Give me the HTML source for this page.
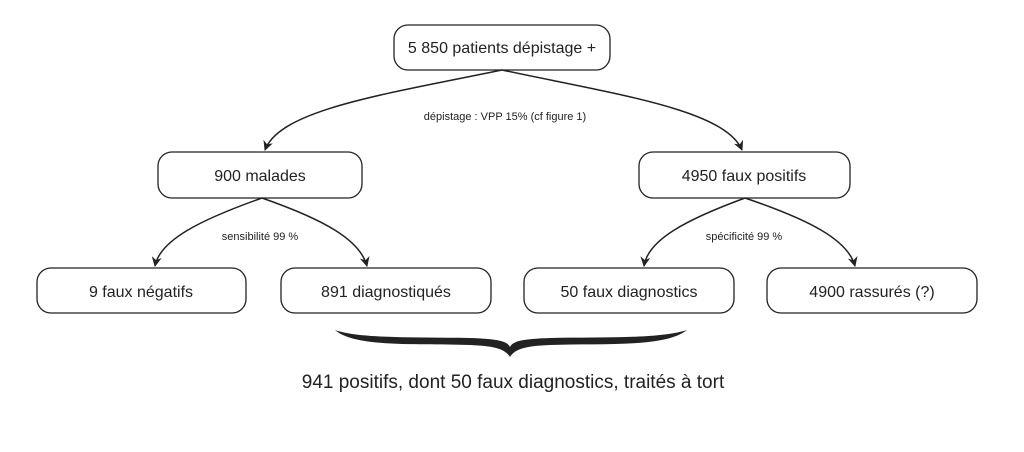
<!DOCTYPE html>
<html><head><meta charset="utf-8"><style>
html,body{margin:0;padding:0;background:#fff;}
svg{display:block;font-family:"Liberation Sans",sans-serif;}
.box{fill:#fff;stroke:#222;stroke-width:1.3;}
.t{font-size:16px;fill:#222;text-anchor:middle;}
.s{font-size:11px;fill:#222;text-anchor:middle;}
.c{fill:none;stroke:#222;stroke-width:1.5;}
</style></head><body>
<svg width="1024" height="452" viewBox="0 0 1024 452">
<defs><marker id="ah" viewBox="0 0 10 10" refX="9" refY="5" markerWidth="10" markerHeight="10" markerUnits="userSpaceOnUse" orient="auto-start-reverse"><path d="M0,0 L10,5 L0,10 L3,5 z" fill="#222"/></marker></defs>

<g><rect class="box" x="394" y="25" width="216" height="45" rx="14"/><text class="t" x="502" y="53">5 850 patients dépistage +</text></g>
<g><rect class="box" x="158" y="152" width="204" height="46" rx="14"/><text class="t" x="260" y="181">900 malades</text></g>
<g><rect class="box" x="639" y="152" width="211" height="46" rx="14"/><text class="t" x="744" y="181">4950 faux positifs</text></g>
<g><rect class="box" x="37" y="268" width="209" height="45" rx="14"/><text class="t" x="141" y="297">9 faux négatifs</text></g>
<g><rect class="box" x="281" y="268" width="210" height="45" rx="14"/><text class="t" x="386" y="297">891 diagnostiqués</text></g>
<g><rect class="box" x="524" y="268" width="210" height="45" rx="14"/><text class="t" x="629" y="297">50 faux diagnostics</text></g>
<g><rect class="box" x="767" y="268" width="210" height="45" rx="14"/><text class="t" x="872" y="297">4900 rassurés (?)</text></g>

<path class="c" marker-end="url(#ah)" d="M502,70 C380,95 280,110 265,150"/>
<path class="c" marker-end="url(#ah)" d="M502,70 C620,95 725,110 742,150"/>
<text class="s" x="505" y="120">dépistage : VPP 15% (cf figure 1)</text>

<path class="c" marker-end="url(#ah)" d="M262,198 C200,220 160,240 155,266"/>
<path class="c" marker-end="url(#ah)" d="M262,198 C325,220 360,240 367,266"/>
<text class="s" x="260" y="240">sensibilité 99 %</text>

<path class="c" marker-end="url(#ah)" d="M745,198 C685,220 648,240 644,266"/>
<path class="c" marker-end="url(#ah)" d="M745,198 C810,220 848,240 855,266"/>
<text class="s" x="744" y="240">spécificité 99 %</text>

<path fill="#222" d="M335,330 C355,348 420,343 470,345 C495,346 505,349 510,357 C515,349 525,346 550,345 C600,343 665,348 687,330 C660,339 600,337 550,338 C522,339 513,341 510,347 C507,341 498,339 470,338 C420,337 360,339 335,330 Z"/>
<text x="513" y="388" style="font-size:19px;fill:#222;text-anchor:middle">941 positifs, dont 50 faux diagnostics, traités à tort</text>
</svg>
</body></html>
